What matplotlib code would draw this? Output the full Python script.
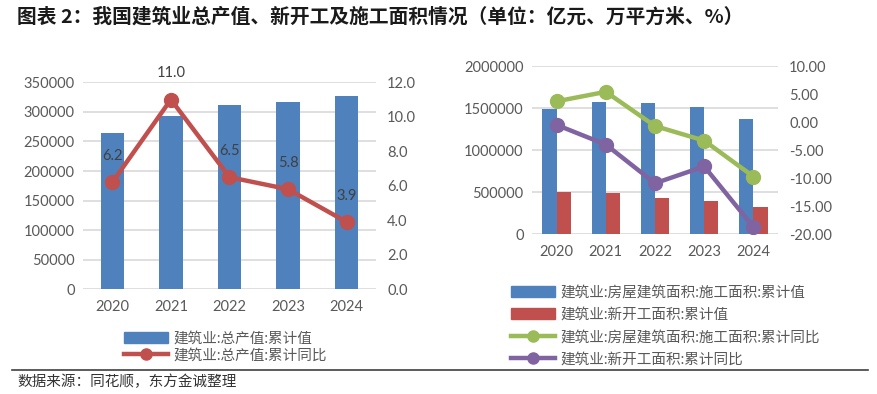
import matplotlib
matplotlib.use('Agg')
from matplotlib import pyplot as plt
from matplotlib.lines import Line2D
import numpy as np

plt.rcParams['font.family'] = ['Lato', 'Noto Sans CJK SC', 'DejaVu Sans']
plt.rcParams['axes.unicode_minus'] = False

years = ['2020', '2021', '2022', '2023', '2024']

# left chart: total output value (100 million yuan) and yoy (%)
output_value = [263947, 293079, 311980, 315911, 326501]
output_yoy = [6.2, 11.0, 6.5, 5.8, 3.9]

# right chart: floor area under construction / newly started (10k m2) and yoy (%)
constr_area = [1494742, 1570000, 1560000, 1508000, 1365000]
new_area = [505000, 485000, 430000, 398000, 322000]
constr_yoy = [3.7, 5.4, -0.7, -3.3, -9.7]
new_yoy = [-0.5, -4.0, -10.9, -7.9, -18.7]

left_ticks = [0, 50000, 100000, 150000, 200000, 250000, 300000, 350000]
left_rticks = [0, 2, 4, 6, 8, 10, 12]
right_ticks = [0, 500000, 1000000, 1500000, 2000000]
right_rticks = [-20, -15, -10, -5, 0, 5, 10]

BLUE = '#4F81BD'
RED = '#C0504D'
GREEN = '#9BBB59'
PURPLE = '#8064A2'
TICK = '#595959'
GRID = '#D9D9D9'

W, H = 878, 394
fig = plt.figure(figsize=(W / 100, H / 100), dpi=100)


def px_axes(x0, y0, x1, y1):
    # pixel box (top-left origin) -> figure axes
    return fig.add_axes([x0 / W, 1 - y1 / H, (x1 - x0) / W, (y1 - y0) / H])


def style(ax, ax2):
    for a in (ax, ax2):
        for s in a.spines.values():
            s.set_visible(False)
        a.tick_params(length=0, labelsize=10.5, colors=TICK)
    ax.tick_params(axis='y', pad=6)
    ax2.tick_params(axis='y', pad=8)
    ax.tick_params(axis='x', pad=8)
    ax.grid(axis='y', color=GRID, lw=1.2)
    ax.set_axisbelow(True)


x = np.arange(len(years))

# ---- left chart ----
ax = px_axes(83, 82.3, 376, 289.3)
ax2 = ax.twinx()
ax.bar(x, output_value, width=0.4, color=BLUE, zorder=2)
ax.set_ylim(0, 350000)
ax.set_yticks(left_ticks, [str(v) for v in left_ticks])
ax.set_xlim(-0.5, 4.5)
ax.set_xticks(x, years)
ax2.plot(x, output_yoy, color=RED, lw=3.2, marker='o', ms=10, zorder=3)
ax2.set_ylim(0, 12)
ax2.set_yticks(left_rticks, [f'{v:.1f}' for v in left_rticks])
for xi, v in zip(x, output_yoy):
    ax2.annotate(f'{v:.1f}', (xi, v), xytext=(0, 19), textcoords='offset points',
                 ha='center', va='center', fontsize=10.5, color='#404040')
style(ax, ax2)

h1 = plt.Rectangle((0, 0), 1, 1, color=BLUE)
h2 = Line2D([], [], color=RED, lw=3.2, marker='o', ms=8)
fig.legend([h1, h2], ['建筑业:总产值:累计值', '建筑业:总产值:累计同比'],
           loc='upper left', bbox_to_anchor=(117 / W, 1 - 324 / H),
           frameon=False, fontsize=10.5, labelcolor=TICK,
           handlelength=3.0, handleheight=0.8, handletextpad=0.4, labelspacing=0.2,
           borderpad=0)

# ---- right chart ----
bx = px_axes(532, 66, 778, 234.3)
bx2 = bx.twinx()
bw = 0.29
bx.bar(x - bw / 2, constr_area, width=bw, color=BLUE, zorder=2)
bx.bar(x + bw / 2, new_area, width=bw, color=RED, zorder=2)
bx.set_ylim(0, 2000000)
bx.set_yticks(right_ticks, [str(v) for v in right_ticks])
bx.set_xlim(-0.5, 4.5)
bx.set_xticks(x, years)
bx2.plot(x, constr_yoy, color=GREEN, lw=3.2, marker='o', ms=10, zorder=3)
bx2.plot(x, new_yoy, color=PURPLE, lw=3.2, marker='o', ms=10, zorder=3)
bx2.set_ylim(-20, 10)
bx2.set_yticks(right_rticks, [f'{v:.2f}' for v in right_rticks])
style(bx, bx2)

g1 = plt.Rectangle((0, 0), 1, 1, color=BLUE)
g2 = plt.Rectangle((0, 0), 1, 1, color=RED)
g3 = Line2D([], [], color=GREEN, lw=3.2, marker='o', ms=8)
g4 = Line2D([], [], color=PURPLE, lw=3.2, marker='o', ms=8)
fig.legend([g1, g2, g3, g4],
           ['建筑业:房屋建筑面积:施工面积:累计值', '建筑业:新开工面积:累计值',
            '建筑业:房屋建筑面积:施工面积:累计同比', '建筑业:新开工面积:累计同比'],
           loc='upper left', bbox_to_anchor=(504 / W, 1 - 278 / H),
           frameon=False, fontsize=10.5, labelcolor=TICK,
           handlelength=3.0, handleheight=0.8, handletextpad=0.4, labelspacing=0.58,
           borderpad=0)

# title, rule and source
fig.text(17 / W, 1 - 17 / H, '图表 2：我国建筑业总产值、新开工及施工面积情况（单位：亿元、万平方米、%）',
         fontsize=14.2, fontweight='bold', color='#1a1a1a', va='center', ha='left',
         family=['Noto Sans CJK SC', 'DejaVu Sans'])
fig.add_artist(Line2D([12 / W, 868 / W], [1 - 370 / H, 1 - 370 / H], color='#404040', lw=1.2))
fig.text(17 / W, 1 - 382 / H, '数据来源：同花顺，东方金诚整理', fontsize=10.5, color='#333333',
         va='center', ha='left', family=['Noto Sans CJK SC', 'DejaVu Sans'])

fig.savefig('out.png', dpi=100)
